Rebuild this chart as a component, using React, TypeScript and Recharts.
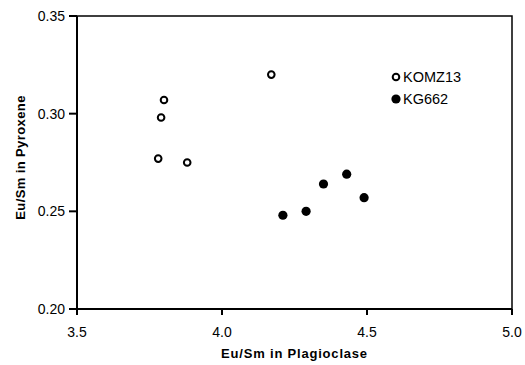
import React from 'react';
import {
  ScatterChart,
  Scatter,
  XAxis,
  YAxis,
  ReferenceArea,
  Legend
} from 'recharts';

// KOMZ13 (open circles)
const komzX = [3.80, 3.79, 3.78, 3.88, 4.17];
const komzY = [0.307, 0.298, 0.277, 0.275, 0.320];

// KG662 (filled circles)
const kgX = [4.21, 4.29, 4.35, 4.43, 4.49];
const kgY = [0.248, 0.250, 0.264, 0.269, 0.257];

const xTicks = [3.5, 4.0, 4.5, 5.0];
const yTicks = [0.2, 0.25, 0.3, 0.35];

const komzData = komzX.map((x, i) => ({ x, y: komzY[i] }));
const kgData = kgX.map((x, i) => ({ x, y: kgY[i] }));

const FONT = '"Liberation Sans", Arial, Helvetica, sans-serif';

const OpenDot = (props: any) => (
  <circle cx={props.cx} cy={props.cy} r={3.3} fill="#fff" stroke="#000" strokeWidth={2} />
);

const FilledDot = (props: any) => (
  <circle cx={props.cx} cy={props.cy} r={4.6} fill="#000" />
);

const YTitle = (props: any) => {
  const vb = props.viewBox;
  const cx = vb.x - 7;
  const cy = vb.y + vb.height / 2 - 5;
  return (
    <text
      x={cx}
      y={cy}
      transform={`rotate(-90, ${cx}, ${cy})`}
      textAnchor="middle"
      dominantBaseline="central"
      fontFamily={FONT}
      fontWeight="bold"
      fontSize={13}
      letterSpacing={0.4}
      fill="#000"
    >
      Eu/Sm in Pyroxene
    </text>
  );
};

const XTitle = (props: any) => {
  const vb = props.viewBox;
  return (
    <text
      x={vb.x + vb.width / 2}
      y={358}
      textAnchor="middle"
      fontFamily={FONT}
      fontWeight="bold"
      fontSize={13}
      letterSpacing={0.8}
      fill="#000"
    >
      Eu/Sm in Plagioclase
    </text>
  );
};

const LegendBox = () => (
  <div style={{ fontFamily: FONT, fontSize: 14.5, color: '#000', lineHeight: '22px' }}>
    <div style={{ display: 'flex', alignItems: 'center' }}>
      <svg width={12} height={12}>
        <circle cx={6} cy={6} r={3.3} fill="#fff" stroke="#000" strokeWidth={2} />
      </svg>
      <span style={{ marginLeft: 1 }}>KOMZ13</span>
    </div>
    <div style={{ display: 'flex', alignItems: 'center' }}>
      <svg width={12} height={12}>
        <circle cx={6} cy={6} r={4.6} fill="#000" />
      </svg>
      <span style={{ marginLeft: 1 }}>KG662</span>
    </div>
  </div>
);

export default function App() {
  return (
    <div style={{ position: 'absolute', left: 0, top: 0, background: '#fff' }}>
      <ScatterChart
        width={525}
        height={365}
        margin={{ top: 16, right: 13, left: 27, bottom: 26 }}
        style={{ fontFamily: FONT }}
      >
        <XAxis
          type="number"
          dataKey="x"
          domain={[3.5, 5.0]}
          ticks={xTicks}
          allowDataOverflow
          tickFormatter={(v: number) => v.toFixed(1)}
          tick={{ fontSize: 14, fill: '#000' }}
          tickSize={6}
          tickMargin={12}
          height={30}
          axisLine={{ stroke: '#000', strokeWidth: 2 }}
          tickLine={{ stroke: '#000', strokeWidth: 2 }}
          label={<XTitle />}
        />
        <YAxis
          type="number"
          dataKey="y"
          domain={[0.2, 0.35]}
          ticks={yTicks}
          allowDataOverflow
          tickFormatter={(v: number) => v.toFixed(2)}
          tick={{ fontSize: 14, fill: '#000' }}
          tickSize={8}
          tickMargin={4}
          width={50}
          axisLine={{ stroke: '#000', strokeWidth: 2 }}
          tickLine={{ stroke: '#000', strokeWidth: 2 }}
          label={<YTitle />}
        />
        <ReferenceArea
          x1={3.5}
          x2={5.0}
          y1={0.2}
          y2={0.35}
          fill="none"
          stroke="#000"
          strokeWidth={1.5}
          ifOverflow="visible"
        />
        <Legend
          layout="vertical"
          align="center"
          verticalAlign="middle"
          content={<LegendBox />}
          wrapperStyle={{ position: 'absolute', left: 390, top: 66, width: 100 }}
        />
        <Scatter
          name="KOMZ13"
          data={komzData}
          shape={<OpenDot />}
          isAnimationActive={false}
        />
        <Scatter
          name="KG662"
          data={kgData}
          shape={<FilledDot />}
          isAnimationActive={false}
        />
      </ScatterChart>
    </div>
  );
}
